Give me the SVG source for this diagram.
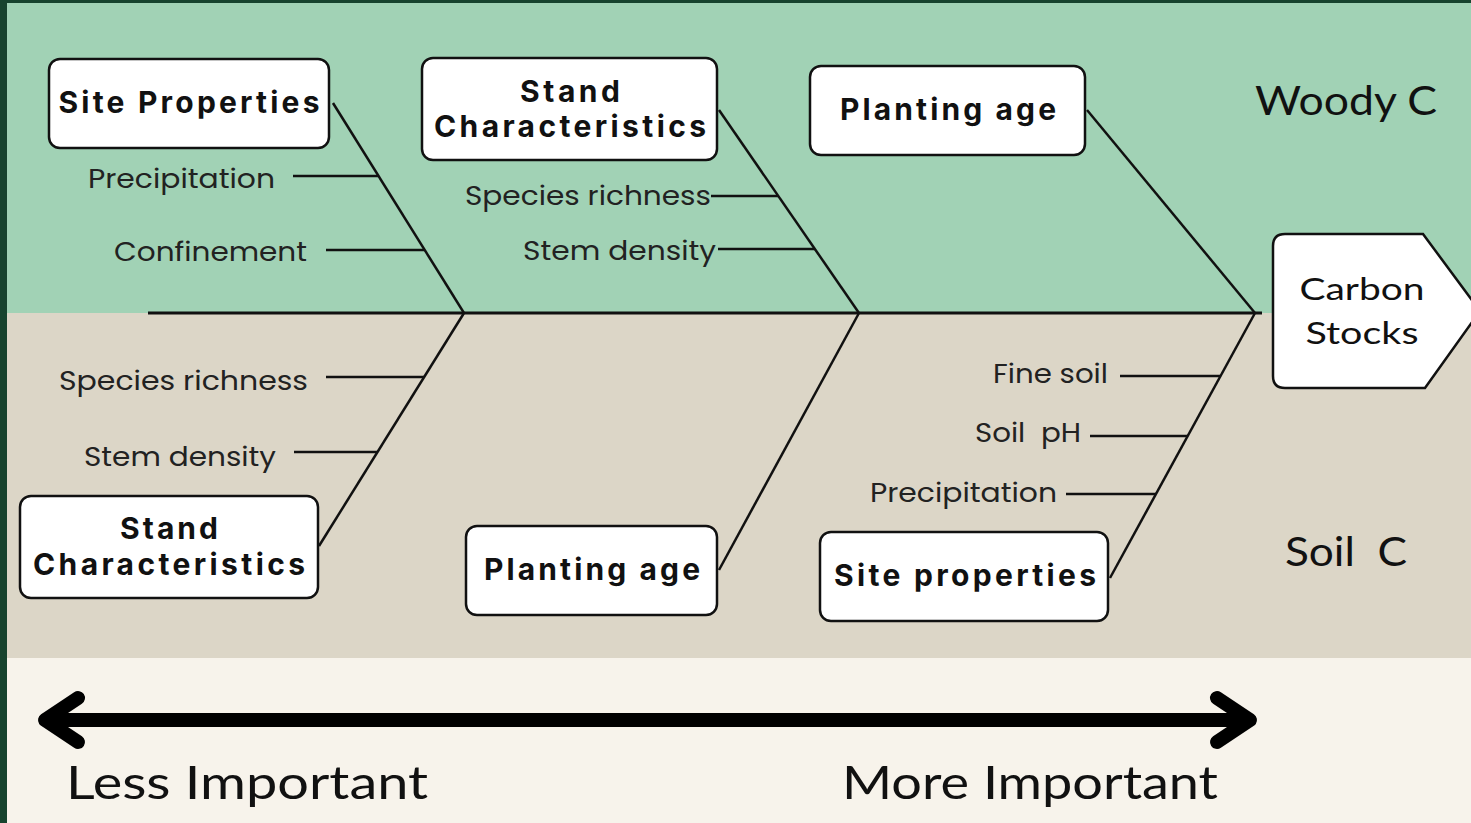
<svg xmlns="http://www.w3.org/2000/svg" width="1471" height="823" viewBox="0 0 1471 823">
  <style>
    .box { fill: #ffffff; stroke: #111111; stroke-width: 2.5; }
    .bone { stroke: #111111; stroke-width: 2.5; fill: none; }
    .spine { stroke: #111111; stroke-width: 3; fill: none; }
    .head { font-family: Inter, "Liberation Sans", sans-serif; font-weight: 700; font-size: 30px; fill: #111111; text-anchor: middle; }
    .lbl { font-family: Poppins, Inter, "Liberation Sans", sans-serif; font-size: 27px; fill: #222222; text-anchor: end; }
    .big { font-family: Lato, "Liberation Sans", sans-serif; fill: #111111; }
  </style>

  <!-- background bands -->
  <rect x="0" y="0" width="1471" height="823" fill="#17432e"/>
  <rect x="7" y="3" width="1464" height="311" fill="#a1d2b5"/>
  <rect x="7" y="313" width="1464" height="345" fill="#dcd6c7"/>
  <rect x="7" y="658" width="1464" height="165" fill="#f7f3eb"/>

  <!-- connectors: spine, bones and sub-bones -->
  <g id="connectors">
    <line class="spine" x1="148" y1="313" x2="1262" y2="313"/>
    <!-- upper bones -->
    <line class="bone" x1="333" y1="103" x2="464" y2="313"/>
    <line class="bone" x1="293" y1="176" x2="378" y2="176"/>
    <line class="bone" x1="326" y1="250" x2="425" y2="250"/>
    <line class="bone" x1="719" y1="110" x2="859" y2="313"/>
    <line class="bone" x1="711" y1="196" x2="778" y2="196"/>
    <line class="bone" x1="718" y1="249" x2="815" y2="249"/>
    <line class="bone" x1="1087" y1="110" x2="1255" y2="313"/>
    <!-- lower bones -->
    <line class="bone" x1="464" y1="313" x2="319" y2="546"/>
    <line class="bone" x1="326" y1="377" x2="424" y2="377"/>
    <line class="bone" x1="294" y1="452" x2="377" y2="452"/>
    <line class="bone" x1="859" y1="313" x2="719" y2="570"/>
    <line class="bone" x1="1255" y1="313" x2="1110" y2="578"/>
    <line class="bone" x1="1120" y1="376" x2="1220" y2="376"/>
    <line class="bone" x1="1090" y1="436" x2="1188" y2="436"/>
    <line class="bone" x1="1066" y1="494" x2="1156" y2="494"/>
  </g>

  <!-- upper cause nodes -->
  <g id="site-properties-top">
    <rect class="box" x="49" y="59" width="280" height="89" rx="11"/>
    <text class="head" x="189" y="113" textLength="261" lengthAdjust="spacing">Site Properties</text>
  </g>
  <g id="stand-characteristics-top">
    <rect class="box" x="422" y="58" width="295" height="102" rx="11"/>
    <text class="head" x="570" y="102" textLength="100" lengthAdjust="spacing">Stand</text>
    <text class="head" x="570" y="137" textLength="272" lengthAdjust="spacing">Characteristics</text>
  </g>
  <g id="planting-age-top">
    <rect class="box" x="810" y="66" width="275" height="89" rx="11"/>
    <text class="head" x="948" y="120" textLength="216" lengthAdjust="spacing">Planting age</text>
  </g>

  <!-- lower cause nodes -->
  <g id="stand-characteristics-bottom">
    <rect class="box" x="20" y="496" width="298" height="102" rx="11"/>
    <text class="head" x="169" y="539" textLength="98" lengthAdjust="spacing">Stand</text>
    <text class="head" x="169" y="575" textLength="272" lengthAdjust="spacing">Characteristics</text>
  </g>
  <g id="planting-age-bottom">
    <rect class="box" x="466" y="526" width="251" height="89" rx="11"/>
    <text class="head" x="592" y="580" textLength="216" lengthAdjust="spacing">Planting age</text>
  </g>
  <g id="site-properties-bottom">
    <rect class="box" x="820" y="532" width="288" height="89" rx="11"/>
    <text class="head" x="965" y="586" textLength="262" lengthAdjust="spacing">Site properties</text>
  </g>

  <!-- effect node -->
  <g id="carbon-stocks">
    <path class="box" d="M1285,234 L1423,234 L1480,311 L1425,388 L1285,388 Q1273,388 1273,376 L1273,246 Q1273,234 1285,234 Z"/>
    <text class="big" x="1362" y="300" font-size="31" text-anchor="middle" textLength="125" lengthAdjust="spacingAndGlyphs">Carbon</text>
    <text class="big" x="1362" y="344" font-size="31" text-anchor="middle" textLength="113" lengthAdjust="spacingAndGlyphs">Stocks</text>
  </g>

  <!-- sub-cause labels -->
  <g id="sub-causes">
    <text class="lbl" x="275" y="188" textLength="187" lengthAdjust="spacingAndGlyphs">Precipitation</text>
    <text class="lbl" x="307" y="261" textLength="193" lengthAdjust="spacingAndGlyphs">Confinement</text>
    <text class="lbl" x="711" y="205" textLength="246" lengthAdjust="spacingAndGlyphs">Species richness</text>
    <text class="lbl" x="716" y="260" textLength="193" lengthAdjust="spacingAndGlyphs">Stem density</text>
    <text class="lbl" x="308" y="390" textLength="249" lengthAdjust="spacingAndGlyphs">Species richness</text>
    <text class="lbl" x="276" y="466" textLength="192" lengthAdjust="spacingAndGlyphs">Stem density</text>
    <text class="lbl" x="1108" y="383" textLength="115" lengthAdjust="spacingAndGlyphs">Fine soil</text>
    <text class="lbl" x="1081" y="442" textLength="106" lengthAdjust="spacingAndGlyphs" xml:space="preserve">Soil  pH</text>
    <text class="lbl" x="1057" y="502" textLength="187" lengthAdjust="spacingAndGlyphs">Precipitation</text>
  </g>

  <!-- band captions -->
  <text class="big" x="1255" y="115" font-size="40" textLength="182" lengthAdjust="spacingAndGlyphs">Woody C</text>
  <text class="big" x="1285" y="566" font-size="40" textLength="122" lengthAdjust="spacingAndGlyphs" xml:space="preserve">Soil  C</text>

  <!-- importance scale -->
  <g id="importance-arrow" fill="none" stroke="#000000" stroke-width="14" stroke-linecap="round" stroke-linejoin="round">
    <line x1="46" y1="720" x2="1248" y2="720"/>
    <polyline points="78,698 45,720 78,742"/>
    <polyline points="1217,698 1250,720 1217,742"/>
  </g>
  <text class="big" x="66" y="799" font-size="46" textLength="362" lengthAdjust="spacingAndGlyphs">Less Important</text>
  <text class="big" x="842" y="799" font-size="46" textLength="376" lengthAdjust="spacingAndGlyphs">More Important</text>
</svg>
